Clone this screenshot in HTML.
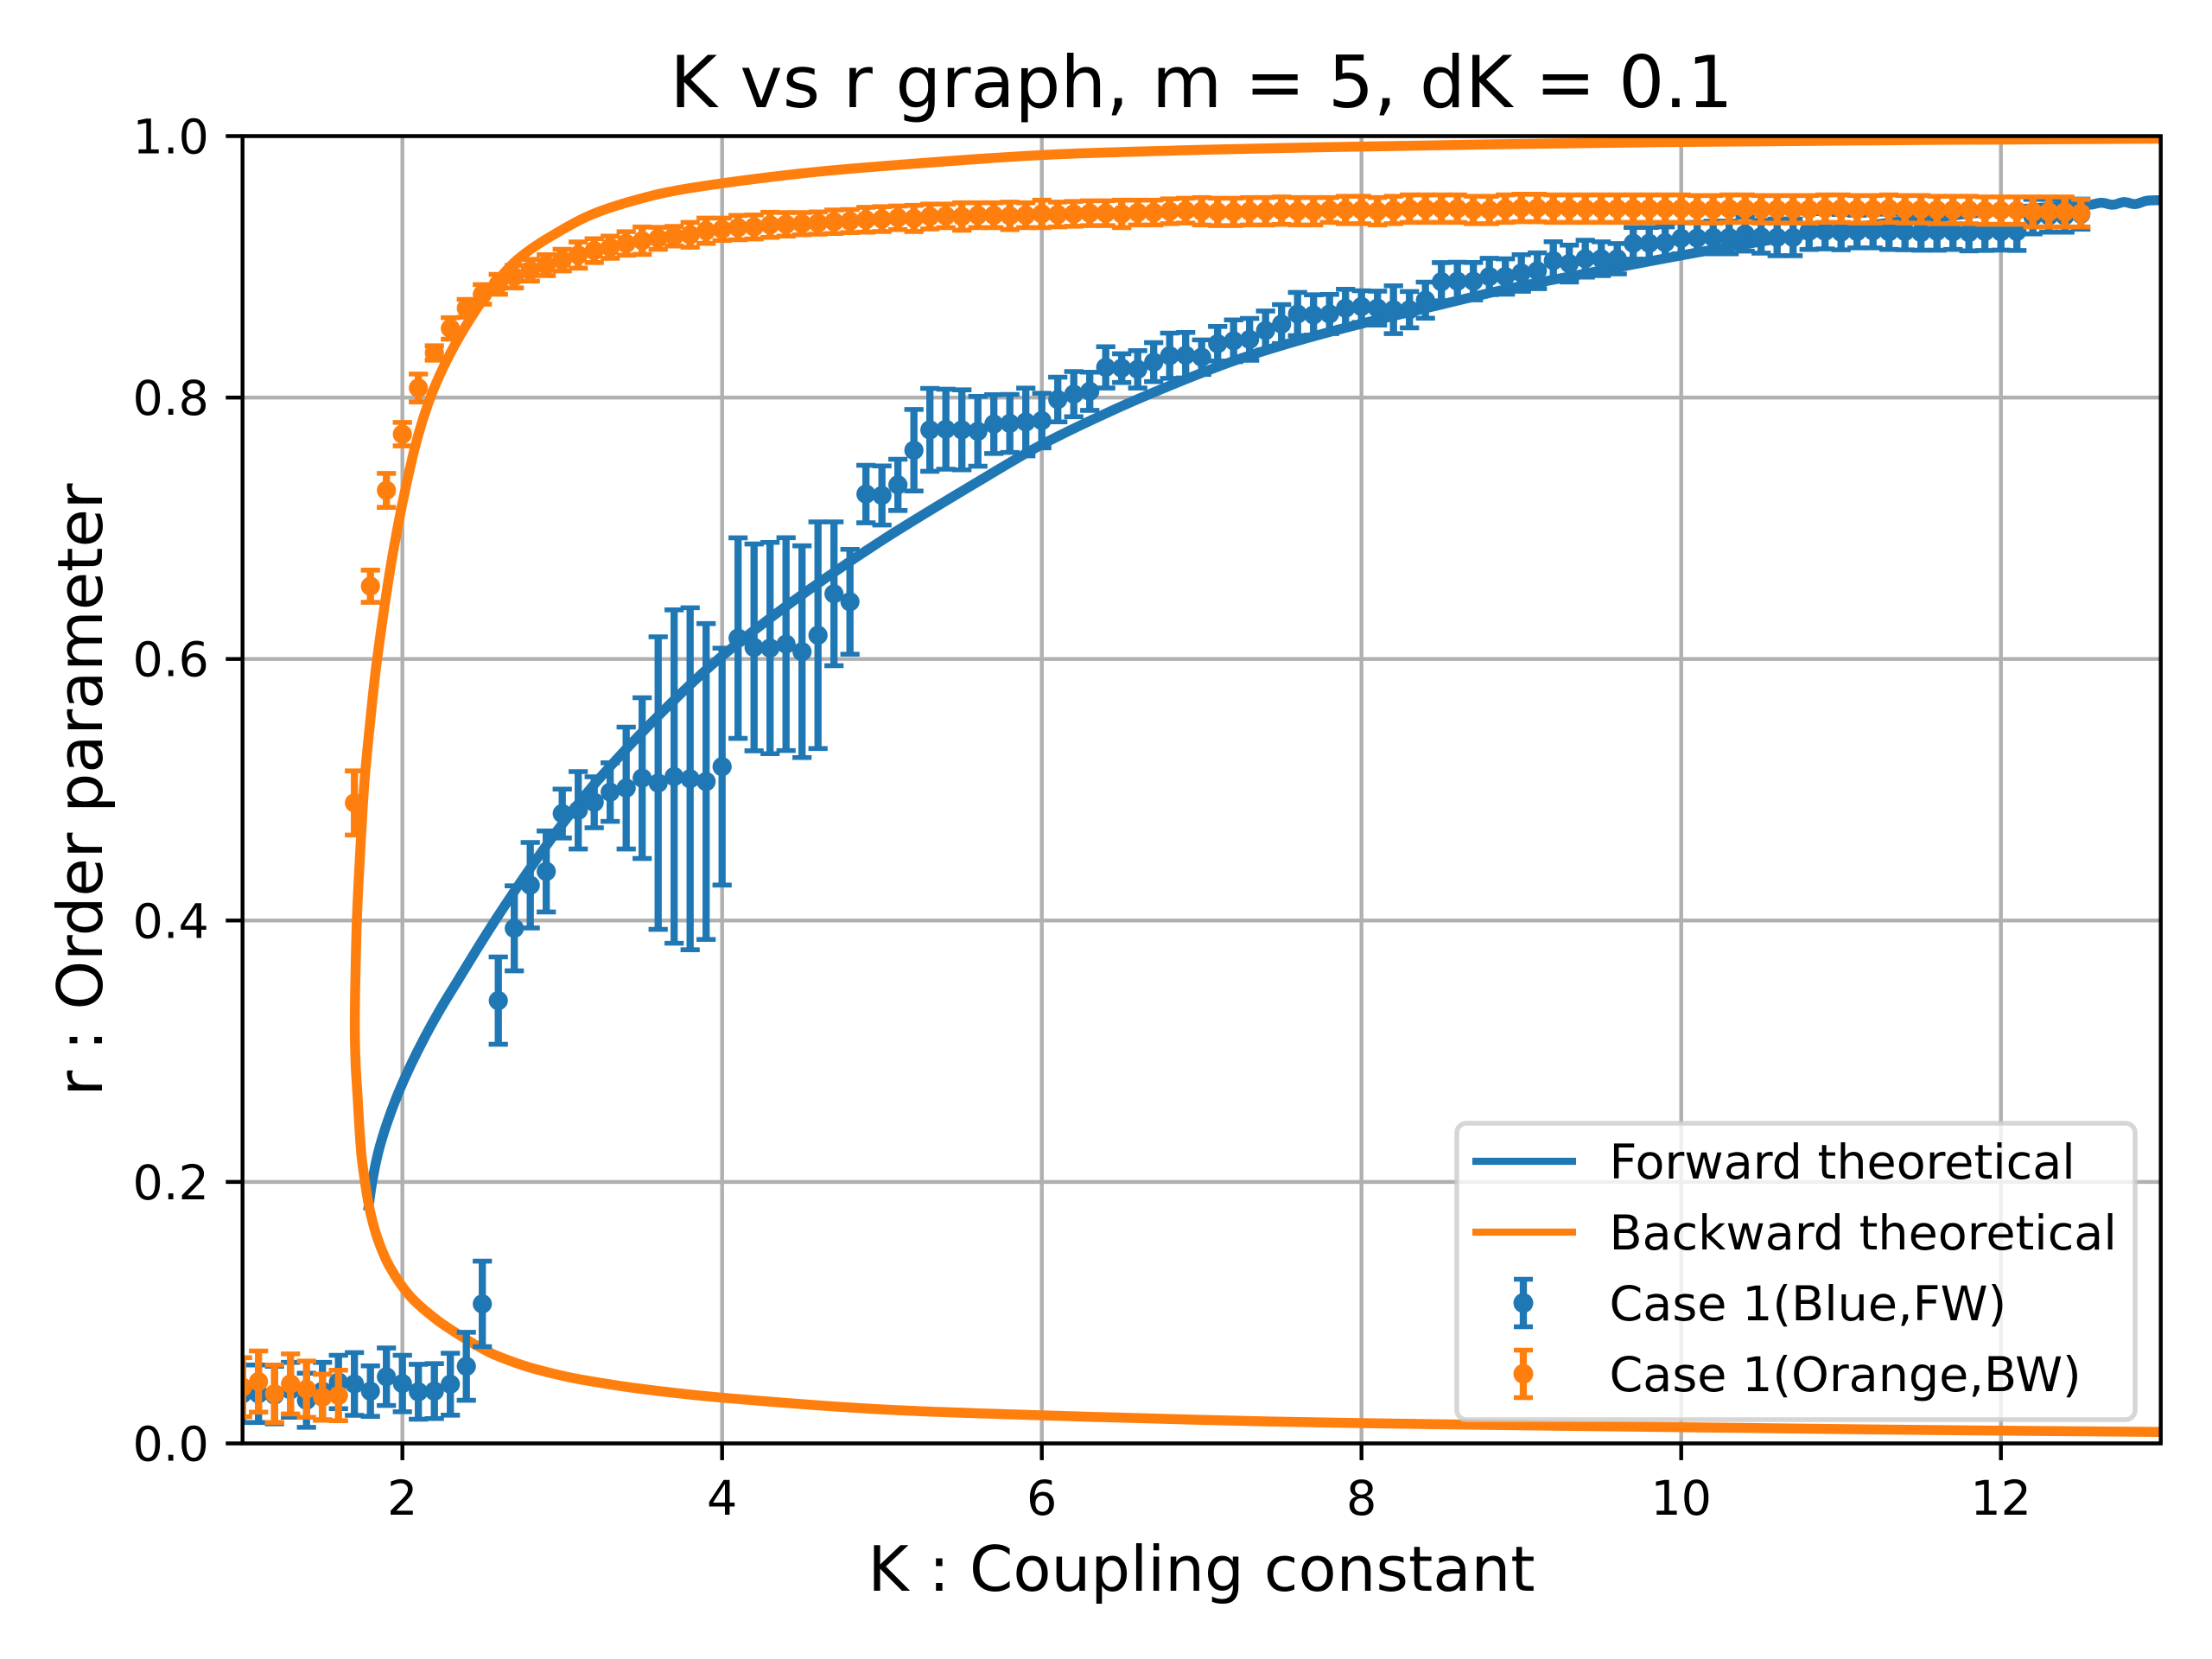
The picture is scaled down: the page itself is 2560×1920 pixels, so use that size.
<!DOCTYPE html>
<html lang="en">
<head>
<meta charset="utf-8">
<title>K vs r graph</title>
<style>
html,body{margin:0;padding:0;background:#fff;}
svg{display:block;}
text{font-family:"DejaVu Sans","Liberation Sans",sans-serif;fill:#000;}
</style>
</head>
<body>
<svg id="chart" xmlns="http://www.w3.org/2000/svg" width="2560" height="1920" viewBox="0 0 2560 1920">
<defs><clipPath id="plot-clip"><rect x="281" y="157" width="2219.5" height="1514"/></clipPath></defs>
<rect x="0" y="0" width="2560" height="1920" fill="#fff"/>
<g id="grid"></g>
<g id="curves" clip-path="url(#plot-clip)"></g>
<g id="points" clip-path="url(#plot-clip)"></g>
<g id="axes"></g>
<text x="1390.5" y="124" font-size="83.3" text-anchor="middle">K vs r graph, m = 5, dK = 0.1</text>
<text x="1390.5" y="1841" font-size="72.2" text-anchor="middle">K : Coupling constant</text>
<text x="0" y="0" font-size="72.2" text-anchor="middle" transform="translate(118 914) rotate(-90)">r : Order parameter</text>
<g id="legend">
<rect x="1686" y="1300" width="785" height="343" rx="11" ry="11" fill="#fff" fill-opacity="0.8" stroke="#ccc" stroke-opacity="0.8" stroke-width="5.56"/>
<g>
<line x1="1704" y1="1344" x2="1824" y2="1344" stroke="#1f77b4" stroke-width="8.33"/>
<text x="1862.5" y="1364" font-size="55.56">Forward theoretical</text>
</g>
<g>
<line x1="1704" y1="1426" x2="1824" y2="1426" stroke="#ff7f0e" stroke-width="8.33"/>
<text x="1862.5" y="1446" font-size="55.56">Backward theoretical</text>
</g>
<g>
<line x1="1763" y1="1478" x2="1763" y2="1538" stroke="#1f77b4" stroke-width="8.33"/>
<line x1="1752" y1="1480.5" x2="1774" y2="1480.5" stroke="#1f77b4" stroke-width="5.56"/>
<line x1="1752" y1="1535.5" x2="1774" y2="1535.5" stroke="#1f77b4" stroke-width="5.56"/>
<circle cx="1763" cy="1508" r="11.5" fill="#1f77b4"/>
<text x="1862.5" y="1528" font-size="55.56">Case 1(Blue,FW)</text>
</g>
<g>
<line x1="1763" y1="1560" x2="1763" y2="1620" stroke="#ff7f0e" stroke-width="8.33"/>
<line x1="1752" y1="1562.5" x2="1774" y2="1562.5" stroke="#ff7f0e" stroke-width="5.56"/>
<line x1="1752" y1="1617.5" x2="1774" y2="1617.5" stroke="#ff7f0e" stroke-width="5.56"/>
<circle cx="1763" cy="1590" r="11.5" fill="#ff7f0e"/>
<text x="1862.5" y="1610" font-size="55.56">Case 1(Orange,BW)</text>
</g>
</g>
</svg>
<script>
const xTickLabels = [2, 4, 6, 8, 10, 12];
const yTickLabels = ["0.0", "0.2", "0.4", "0.6", "0.8", "1.0"];

const forwardK = [1.785, 1.811, 1.849, 1.903, 1.97, 2.05, 2.14, 2.24, 2.35, 2.46, 2.58, 2.7, 2.82, 2.98, 3.21, 3.56, 3.94, 4.33, 4.72, 5.1, 5.66, 6.0, 6.43, 6.82, 7.2, 7.59, 8.0, 8.46, 8.93, 9.62, 10.0, 10.22, 11.0, 12.0, 12.56, 12.63, 12.7, 12.77, 12.84, 12.91, 13.0];
const forwardR = [0.178, 0.2, 0.2227, 0.2447, 0.2667, 0.2888, 0.3108, 0.3328, 0.3548, 0.3768, 0.4, 0.4222, 0.4435, 0.4705, 0.5055, 0.5515, 0.596, 0.634, 0.668, 0.6985, 0.74, 0.764, 0.7895, 0.81, 0.828, 0.843, 0.8565, 0.87, 0.8835, 0.9, 0.9087, 0.9135, 0.929, 0.943, 0.9475, 0.949, 0.9475, 0.9495, 0.948, 0.9505, 0.951];

const backwardK = [13.0, 11.5, 10.0, 8.0, 7.0, 6.0, 5.0, 4.0, 3.49, 3.12, 2.94, 2.76, 2.58, 2.5, 2.4, 2.22, 2.049, 1.923, 1.845, 1.796, 1.766, 1.742, 1.719, 1.708, 1.703, 1.703, 1.706, 1.715, 1.732, 1.762, 1.796, 1.842, 1.941, 2.062, 2.162, 2.278, 2.432, 2.587, 2.722, 2.915, 3.205, 3.591, 3.915, 4.5, 5.0, 6.0, 7.0, 8.0, 9.0, 10.0, 11.5, 13.0];
const backwardR = [0.0088, 0.0103, 0.0124, 0.0155, 0.018, 0.0215, 0.026, 0.035, 0.0418, 0.0488, 0.0535, 0.0595, 0.0676, 0.0725, 0.0796, 0.0941, 0.1125, 0.1346, 0.1566, 0.1786, 0.2, 0.2227, 0.2667, 0.2888, 0.3108, 0.3328, 0.3548, 0.4, 0.4432, 0.5048, 0.549, 0.6, 0.6811, 0.7537, 0.7956, 0.8286, 0.8617, 0.8881, 0.9058, 0.9223, 0.941, 0.9553, 0.9624, 0.9715, 0.977, 0.9855, 0.9895, 0.992, 0.994, 0.9955, 0.997, 0.998];

const couplingK = [1.0,1.1,1.2,1.3,1.4,1.5,1.6,1.7,1.8,1.9,2.0,2.1,2.2,2.3,2.4,2.5,2.6,2.7,2.8,2.9,3.0,3.1,3.2,3.3,3.4,3.5,3.6,3.7,3.8,3.9,4.0,4.1,4.2,4.3,4.4,4.5,4.6,4.7,4.8,4.9,5.0,5.1,5.2,5.3,5.4,5.5,5.6,5.7,5.8,5.9,6.0,6.1,6.2,6.3,6.4,6.5,6.6,6.7,6.8,6.9,7.0,7.1,7.2,7.3,7.4,7.5,7.6,7.7,7.8,7.9,8.0,8.1,8.2,8.3,8.4,8.5,8.6,8.7,8.8,8.9,9.0,9.1,9.2,9.3,9.4,9.5,9.6,9.7,9.8,9.9,10.0,10.1,10.2,10.3,10.4,10.5,10.6,10.7,10.8,10.9,11.0,11.1,11.2,11.3,11.4,11.5,11.6,11.7,11.8,11.9,12.0,12.1,12.2,12.3,12.4,12.5];

const blueR = [0.038,0.038,0.037,0.041,0.033,0.04,0.047,0.0455,0.04,0.051,0.0458,0.0395,0.04,0.0453,0.059,0.1067,0.3387,0.394,0.427,0.4375,0.4818,0.4843,0.4904,0.4982,0.5013,0.5089,0.5051,0.5101,0.5084,0.5063,0.5177,0.616,0.6089,0.6084,0.6114,0.6056,0.6182,0.6499,0.6438,0.7262,0.7251,0.7332,0.7597,0.7753,0.7758,0.7753,0.7742,0.7797,0.7802,0.7813,0.7824,0.7985,0.8026,0.8048,0.8231,0.8225,0.8216,0.8271,0.832,0.8324,0.8309,0.8412,0.8434,0.8445,0.8513,0.8562,0.8639,0.8632,0.8639,0.8683,0.8696,0.8684,0.8672,0.8672,0.8745,0.8886,0.889,0.889,0.8926,0.8926,0.8953,0.897,0.9047,0.9025,0.9062,0.9062,0.9062,0.918,0.918,0.9185,0.9218,0.922,0.9225,0.9225,0.925,0.923,0.9225,0.9225,0.9272,0.9272,0.9265,0.927,0.9275,0.9268,0.927,0.9262,0.9272,0.9268,0.9262,0.927,0.9268,0.927,0.9384,0.939,0.939,0.9403];
const blueErr = [0.022,0.022,0.022,0.021,0.0207,0.022,0.0204,0.024,0.0193,0.022,0.0216,0.021,0.021,0.0237,0.026,0.0327,0.0334,0.0325,0.0327,0.031,0.0187,0.0296,0.0195,0.0224,0.0466,0.0615,0.1119,0.1275,0.1308,0.1208,0.0906,0.0767,0.0791,0.0808,0.0814,0.081,0.0867,0.055,0.0401,0.022,0.0226,0.0196,0.0312,0.0317,0.0306,0.0306,0.0267,0.0225,0.0222,0.0259,0.0209,0.0171,0.0173,0.0146,0.0158,0.011,0.0143,0.0149,0.0173,0.0174,0.0132,0.0132,0.016,0.016,0.0149,0.0149,0.0165,0.0154,0.015,0.0145,0.0121,0.013,0.0183,0.0139,0.0138,0.0146,0.0145,0.0143,0.0139,0.0135,0.014,0.0137,0.0145,0.0141,0.0141,0.0129,0.0116,0.0121,0.0121,0.012,0.0119,0.012,0.0125,0.0125,0.013,0.0125,0.014,0.014,0.0139,0.0135,0.0135,0.0125,0.013,0.0135,0.014,0.0135,0.0145,0.0135,0.014,0.0145,0.014,0.0145,0.0132,0.0125,0.0125,0.0115];

const orangeR = [0.043,0.0473,0.038,0.0455,0.0415,0.0353,0.0367,0.4899,0.6557,0.729,0.772,0.8073,0.8341,0.8529,0.8683,0.8789,0.8866,0.8925,0.8974,0.9013,0.9051,0.909,0.9124,0.915,0.9179,0.92,0.9218,0.9234,0.9245,0.9276,0.9287,0.93,0.9305,0.9321,0.9325,0.933,0.9335,0.9345,0.935,0.936,0.9365,0.9375,0.937,0.9385,0.939,0.9385,0.9395,0.9395,0.939,0.9395,0.9405,0.94,0.9405,0.941,0.941,0.9405,0.9415,0.9415,0.9425,0.943,0.9425,0.942,0.942,0.9425,0.9425,0.943,0.9425,0.9425,0.9435,0.9435,0.9435,0.9425,0.9435,0.9445,0.9445,0.9445,0.9445,0.9435,0.9435,0.9445,0.945,0.945,0.9445,0.9445,0.9445,0.9445,0.9445,0.9445,0.9445,0.9445,0.9445,0.944,0.944,0.9445,0.9445,0.944,0.944,0.944,0.944,0.9445,0.9445,0.944,0.944,0.9445,0.944,0.944,0.9435,0.9435,0.9435,0.943,0.943,0.943,0.942,0.942,0.942,0.941];
const orangeErr = [0.0226,0.0234,0.022,0.023,0.0215,0.0176,0.0193,0.0245,0.0123,0.013,0.009,0.0107,0.0055,0.0082,0.0068,0.0075,0.0076,0.0086,0.0083,0.008,0.0083,0.01,0.0091,0.0085,0.009,0.0105,0.0084,0.0075,0.0095,0.0097,0.0086,0.0093,0.0092,0.0096,0.009,0.0085,0.0085,0.009,0.0088,0.0095,0.0095,0.009,0.01,0.0095,0.009,0.0105,0.0095,0.0095,0.0105,0.0095,0.0105,0.0095,0.0095,0.0095,0.0095,0.0105,0.0095,0.0095,0.0095,0.0095,0.0105,0.0105,0.0105,0.0105,0.0105,0.0105,0.0105,0.0105,0.0095,0.0105,0.0105,0.0105,0.0105,0.0105,0.0105,0.0105,0.0105,0.0105,0.0105,0.0105,0.0105,0.0105,0.0105,0.0105,0.0105,0.0105,0.0105,0.0105,0.0105,0.0105,0.0105,0.0105,0.0105,0.0105,0.0105,0.0105,0.0105,0.0105,0.0105,0.0105,0.0105,0.0105,0.0105,0.0105,0.0105,0.0105,0.0105,0.0105,0.0105,0.0105,0.0105,0.0105,0.0115,0.0115,0.0115,0.0105];

const SVG_NS = "http://www.w3.org/2000/svg";
const plotLeft = 280.7, plotRight = 2500.7, plotTop = 157.5, plotBottom = 1670.5;
const kMin = 1, kMax = 13, rMin = 0, rMax = 1;
function xScale(k) { return plotLeft + (k - kMin) / (kMax - kMin) * (plotRight - plotLeft); }
function yScale(r) { return plotBottom - (r - rMin) / (rMax - rMin) * (plotBottom - plotTop); }

function make(parent, tag, attrs, text) {
  const el = document.createElementNS(SVG_NS, tag);
  for (const key in attrs) el.setAttribute(key, attrs[key]);
  if (text !== undefined) el.textContent = text;
  parent.appendChild(el);
  return el;
}

function smoothPath(ks, rs) {
  const pts = ks.map((k, i) => [xScale(k), yScale(rs[i])]);
  const tangents = pts.map(function (p, i) {
    const a = pts[Math.max(i - 1, 0)], b = pts[Math.min(i + 1, pts.length - 1)];
    const dx = b[0] - a[0], dy = b[1] - a[1], len = Math.hypot(dx, dy) || 1;
    return [dx / len, dy / len];
  });
  let d = "M" + pts[0][0].toFixed(2) + " " + pts[0][1].toFixed(2);
  for (let i = 0; i < pts.length - 1; i++) {
    const p1 = pts[i], p2 = pts[i + 1];
    const span = Math.hypot(p2[0] - p1[0], p2[1] - p1[1]) / 3;
    const c1x = p1[0] + tangents[i][0] * span, c1y = p1[1] + tangents[i][1] * span;
    const c2x = p2[0] - tangents[i + 1][0] * span, c2y = p2[1] - tangents[i + 1][1] * span;
    d += "C" + c1x.toFixed(2) + " " + c1y.toFixed(2) + " " + c2x.toFixed(2) + " " + c2y.toFixed(2) + " " + p2[0].toFixed(2) + " " + p2[1].toFixed(2);
  }
  return d;
}

const gridLayer = document.getElementById("grid");
const axesLayer = document.getElementById("axes");
const curveLayer = document.getElementById("curves");
const pointLayer = document.getElementById("points");

xTickLabels.forEach(function (tick) {
  const px = xScale(tick);
  const gridLine = make(gridLayer, "line", {x1: px, x2: px, y1: plotTop, y2: plotBottom, stroke: "#b0b0b0", "stroke-width": 4.44});
  
  
  const tickMark = make(axesLayer, "line", {x1: px, x2: px, y1: plotBottom, y2: plotBottom + 19.4, stroke: "#000", "stroke-width": 4.44});
  
  
  const label = make(axesLayer, "text", {x: px, y: 1753, "font-size": 55.56, "text-anchor": "middle"}, String(tick));
  
  
});

yTickLabels.forEach(function (tick) {
  const py = yScale(parseFloat(tick));
  const gridLine = make(gridLayer, "line", {x1: plotLeft, x2: plotRight, y1: py, y2: py, stroke: "#b0b0b0", "stroke-width": 4.44});
  
  
  const tickMark = make(axesLayer, "line", {x1: plotLeft - 19.4, x2: plotLeft, y1: py, y2: py, stroke: "#000", "stroke-width": 4.44});
  
  
  const label = make(axesLayer, "text", {x: plotLeft - 38.8, y: py + 20, "font-size": 55.56, "text-anchor": "end"}, tick);
  
  
});

const forwardCurve = make(curveLayer, "path", {d: smoothPath(forwardK, forwardR), fill: "none", stroke: "#1f77b4", "stroke-width": 11.5});


const backwardCurve = make(curveLayer, "path", {d: smoothPath(backwardK, backwardR), fill: "none", stroke: "#ff7f0e", "stroke-width": 11.5});



function drawSeries(values, errors, color, pointName) {
  couplingK.forEach(function (k, i) {
    const px = xScale(k), py = yScale(values[i]);
    const top = yScale(values[i] + errors[i]), bottom = yScale(values[i] - errors[i]);
    const group = make(pointLayer, "g", {fill: color, stroke: color});
    
    
    make(group, "line", {x1: px, x2: px, y1: top, y2: bottom, "stroke-width": 8.33});
    make(group, "line", {x1: px - 11.1, x2: px + 11.1, y1: top, y2: top, "stroke-width": 5.56});
    make(group, "line", {x1: px - 11.1, x2: px + 11.1, y1: bottom, y2: bottom, "stroke-width": 5.56});
    make(group, "circle", {cx: px, cy: py, r: 11.1, stroke: "none"});
  });
}
drawSeries(blueR, blueErr, "#1f77b4", "case-blue-point");
drawSeries(orangeR, orangeErr, "#ff7f0e", "case-orange-point");

const frame = make(axesLayer, "rect", {x: plotLeft, y: plotTop, width: plotRight - plotLeft, height: plotBottom - plotTop, fill: "none", stroke: "#000", "stroke-width": 4.44});


</script>
</body>
</html>
